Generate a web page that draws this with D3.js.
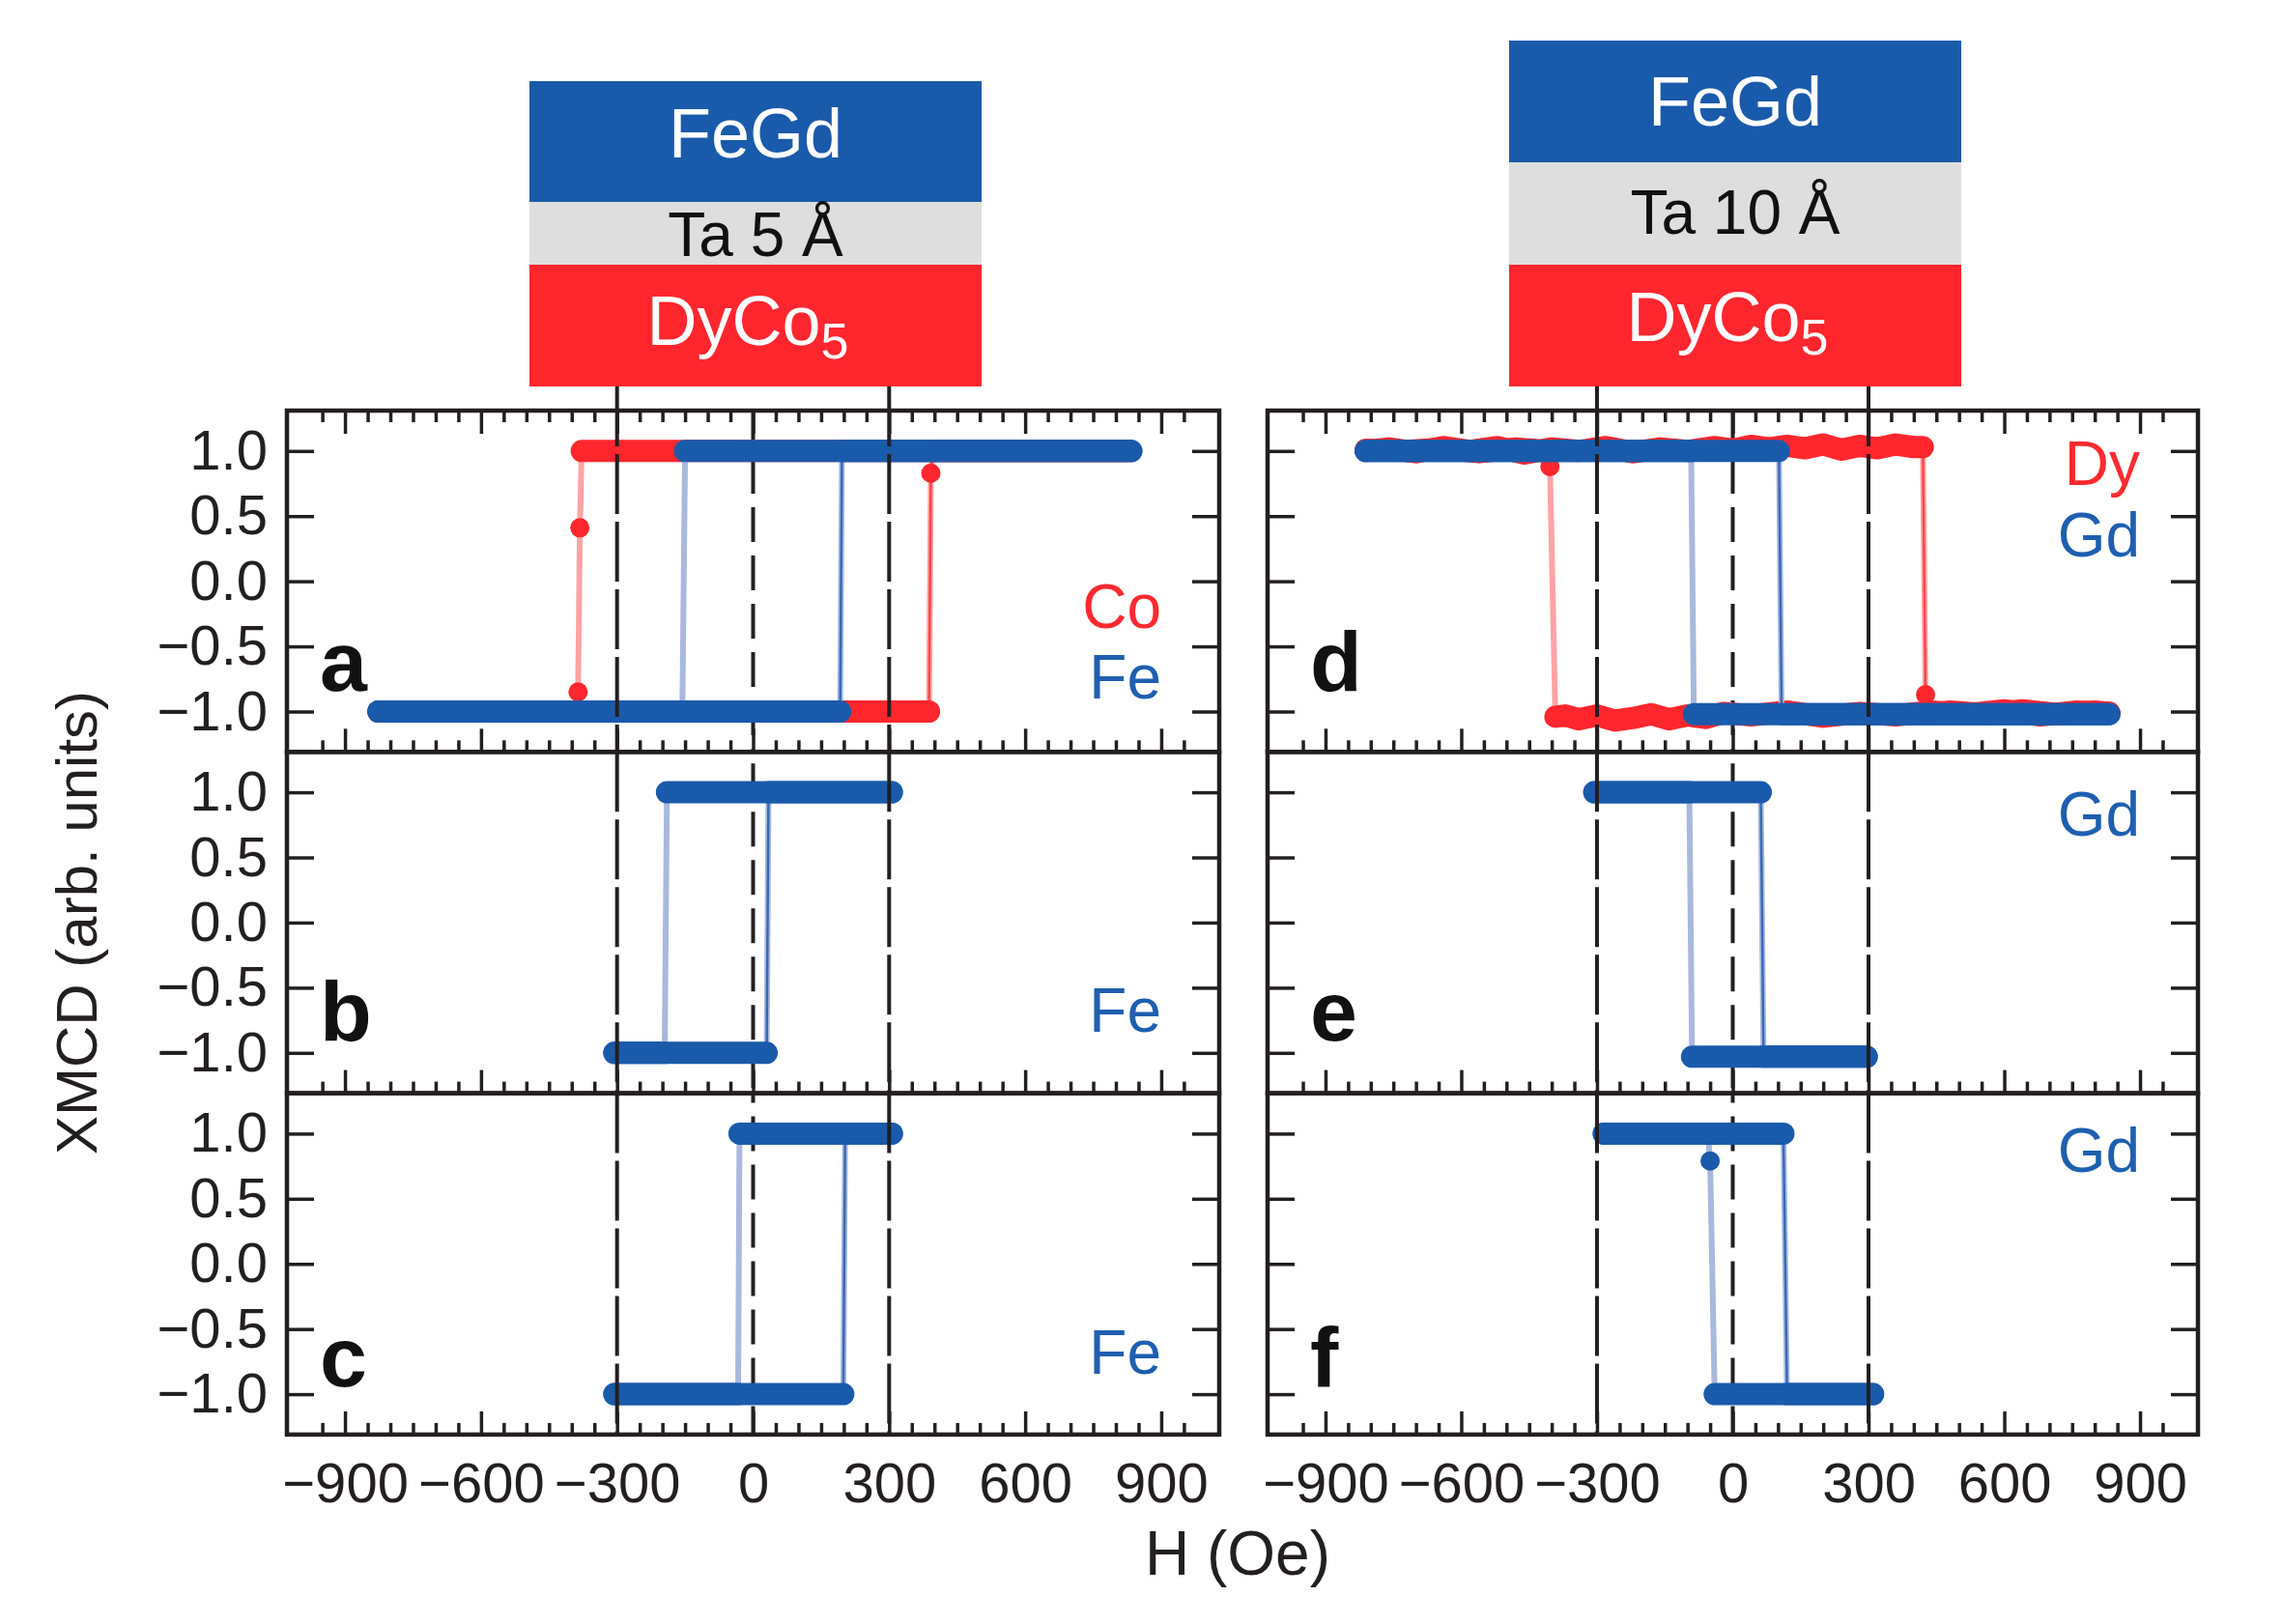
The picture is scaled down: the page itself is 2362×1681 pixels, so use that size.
<!DOCTYPE html>
<html>
<head>
<meta charset="utf-8">
<script src="https://cdn.jsdelivr.net/npm/d3@7"></script>
<style>
body{margin:0;background:#fff}
svg{display:block}
text{font-family:"Liberation Sans",Arial,Helvetica,sans-serif}
</style>
</head>
<body>
<svg id="fig" width="2362" height="1681"></svg>
<script>
// ---- data (H in Oe, XMCD normalised) ----
const hTicks = [-900, -600, -300, 0, 300, 600, 900];
const hTickLabels = ["\u2212900", "\u2212600", "\u2212300", "0", "300", "600", "900"];
const hMinor = [-950,-850,-800,-750,-700,-650,-550,-500,-450,-400,-350,-250,-200,-150,-100,-50,
                50,100,150,200,250,350,400,450,500,550,650,700,750,800,850,950];
const mTicks = [-1, -0.5, 0, 0.5, 1];
const mTickLabels = ["\u22121.0", "\u22120.5", "0.0", "0.5", "1.0"];
const guideFields = [-300, 300];

// panel a  (Ta 5 A)
const coDownA = [[830,1],[-378,1],[-382,0.41],[-386,-0.85],[-390,-1],[-826,-1]];
const coUpA   = [[-826,-1],[388,-1],[392,0.83],[396,1],[830,1]];
const feDownA = [[834,1],[-150,1],[-156,-1],[-826,-1]];
const feUpA   = [[-826,-1],[192,-1],[196,1],[834,1]];
// panel b
const feDownB = [[306,1],[-190,1],[-195,-1],[-306,-1]];
const feUpB   = [[-306,-1],[30,-1],[34,1],[306,1]];
// panel c
const feDownC = [[306,1],[-30,1],[-33,-1],[-306,-1]];
const feUpC   = [[-306,-1],[199,-1],[203,1],[306,1]];
// panel d  (Ta 10 A)
const dyDownD = [[832,-1.01],[760,-1.0],[680,-1.03],[600,-0.99],[520,-1.02],[440,-1.0],[360,-1.03],
                 [280,-1.01],[200,-1.04],[120,-1.0],[40,-1.03],[-20,-1.01],[-60,-1.05],[-100,-1.03],
                 [-140,-1.06],[-180,-1.02],[-220,-1.05],[-260,-1.07],[-300,-1.03],[-340,-1.06],
                 [-370,-1.03],[-392,-1.04],[-404,0.88],[-408,1.0],[-480,1.02],[-560,0.99],
                 [-640,1.02],[-720,1.0],[-811,1.01]];
const dyUpD   = [[-811,1.0],[-760,1.02],[-700,0.99],[-640,1.03],[-580,1.0],[-520,1.03],[-460,0.98],
                 [-400,1.02],[-340,1.0],[-280,1.03],[-220,0.99],[-160,1.02],[-100,1.0],[-40,1.03],
                 [0,1.01],[40,1.04],[80,1.02],[120,1.04],[160,1.02],[200,1.05],[240,1.01],
                 [280,1.04],[320,1.02],[360,1.05],[400,1.03],[420,1.03],[426,-0.87],[430,-1.02],
                 [480,-1.0],[560,-1.02],[640,-0.99],[720,-1.02],[800,-1.0],[832,-1.01]];
const gdDownD = [[832,-1.02],[-86,-1.02],[-92,1],[-811,1]];
const gdUpD   = [[-811,1],[102,1],[108,-1.02],[832,-1.02]];
// panel e
const gdDownE = [[296,-1.03],[-90,-1.03],[-96,1],[-306,1]];
const gdUpE   = [[-306,1],[62,1],[68,-1.03],[296,-1.03]];
// panel f
const gdDownF = [[310,-1],[-40,-1],[-50,0.79],[-55,1],[-285,1]];
const gdUpF   = [[-285,1],[112,1],[120,-1],[310,-1]];

// ---- styling / layout ----
const RED = "#ff262e", BLUE = "#1a5aab", INK = "#231f20";
const tones = {
  red:  {band: RED,  light: "#ffa3a6", dark: "#ff3a40", label: "#ff2a30"},
  blue: {band: BLUE, light: "#a9b8db", dark: "#2a62b3", label: "#1f5fb0"}
};
const cols = [{x0: 297, x1: 1262}, {x0: 1312, x1: 2275}];
const rowTop = 425, rowH = 353.3;

const panels = [
  {col:0,row:0,letter:"a",series:[["red",coDownA,coUpA],["blue",feDownA,feUpA]],
   labels:[["Co","red",225],["Fe","blue",298]]},
  {col:0,row:1,letter:"b",series:[["blue",feDownB,feUpB]],labels:[["Fe","blue",290]]},
  {col:0,row:2,letter:"c",series:[["blue",feDownC,feUpC]],labels:[["Fe","blue",290]]},
  {col:1,row:0,letter:"d",series:[["red",dyDownD,dyUpD],["blue",gdDownD,gdUpD]],
   labels:[["Dy","red",77],["Gd","blue",151]]},
  {col:1,row:1,letter:"e",series:[["blue",gdDownE,gdUpE]],labels:[["Gd","blue",87]]},
  {col:1,row:2,letter:"f",series:[["blue",gdDownF,gdUpF]],labels:[["Gd","blue",81]]}
];
const letterBase = [290, 299, 303];

const svg = d3.select("#fig");

// ---- layer stack sketches ----
const stacks = [
  {cx: 782, layers: [[84,209,BLUE],[209,274,"#dedede"],[274,400,RED]], ta: "Ta 5 \u00c5",
   base: [163, 265, 357]},
  {cx: 1796, layers: [[42,168,BLUE],[168,274,"#dedede"],[274,400,RED]], ta: "Ta 10 \u00c5",
   base: [130, 242, 353]}
];
stacks.forEach(s => {
  const g = svg.append("g");
  g.selectAll("rect").data(s.layers).enter().append("rect")
    .attr("x", s.cx - 234).attr("width", 468)
    .attr("y", d => d[0]).attr("height", d => d[1] - d[0])
    .attr("fill", d => d[2]);
  g.append("text").attr("x", s.cx).attr("y", s.base[0]).attr("text-anchor", "middle")
    .attr("font-size", 72).attr("fill", "#fff").text("FeGd");
  g.append("text").attr("x", s.cx).attr("y", s.base[1]).attr("text-anchor", "middle")
    .attr("font-size", 64).attr("fill", "#111").text(s.ta);
  const t = g.append("text").attr("x", s.cx - 8).attr("y", s.base[2]).attr("text-anchor", "middle")
    .attr("font-size", 72).attr("fill", "#fff");
  t.append("tspan").text("DyCo");
  t.append("tspan").attr("font-size", 52).attr("dy", 14).text("5");
});

// ---- panels ----
const lineGen = (x, y) => d3.line().x(d => x(d[0])).y(d => y(d[1]));

// saturated stretches of a branch: drawn as the thick band of overlapping markers
function plateauRuns(pts) {
  const runs = []; let cur = [];
  pts.forEach(p => {
    const prev = cur[cur.length - 1];
    if (Math.abs(p[1]) >= 0.95 && (!prev || Math.abs(p[1] - prev[1]) < 0.3)) { cur.push(p); return; }
    if (cur.length > 1) runs.push(cur);
    cur = Math.abs(p[1]) >= 0.95 ? [p] : [];
  });
  if (cur.length > 1) runs.push(cur);
  return runs;
}

panels.forEach(p => {
  const c = cols[p.col];
  const top = rowTop + p.row * rowH, bot = top + rowH;
  const x = d3.scaleLinear().domain([-1028, 1028]).range([c.x0, c.x1]);
  const y = d3.scaleLinear().domain([-1.31, 1.31]).range([bot, top]);
  const g = svg.append("g");
  const line = lineGen(x, y);

  // zero-field guide (under the data)
  g.append("line").attr("x1", x(0)).attr("x2", x(0)).attr("y1", top).attr("y2", bot)
    .attr("stroke", INK).attr("stroke-width", 4).attr("stroke-dasharray", "36,14")
    .attr("stroke-dashoffset", -p.row * 12);

  p.series.forEach(([tone, down, up]) => {
    const t = tones[tone];
    [down, up].forEach((br, i) => {
      g.append("path").attr("d", line(br)).attr("fill", "none")
        .attr("stroke", t.light).attr("stroke-width", 6);
      g.append("path").attr("d", line(br)).attr("fill", "none")
        .attr("stroke", i ? t.dark : t.light).attr("stroke-width", 2.5).attr("opacity", 0.9);
    });
    [down, up].forEach(br => {
      plateauRuns(br).forEach(run => {
        g.append("path").attr("d", line(run)).attr("fill", "none")
          .attr("stroke", t.band).attr("stroke-width", 23)
          .attr("stroke-linecap", "round").attr("stroke-linejoin", "round");
      });
      g.selectAll(null).data(br.filter(d => Math.abs(d[1]) < 0.95)).enter().append("circle")
        .attr("cx", d => x(d[0])).attr("cy", d => y(d[1])).attr("r", 10).attr("fill", t.band);
    });
  });

  // +/-300 Oe guides drawn over the data, reaching up to the stack sketches
  g.selectAll(null).data(guideFields).enter().append("line")
    .attr("x1", d => x(d)).attr("x2", d => x(d))
    .attr("y1", p.row === 0 ? 400 : top).attr("y2", bot)
    .attr("stroke", INK).attr("stroke-width", 4).attr("stroke-dasharray", "62,8");

  // inward ticks
  const styleAxis = a => {
    a.select(".domain").remove();
    a.selectAll(".tick line").attr("stroke", INK).attr("stroke-width", 3.5);
    a.selectAll(".tick text").attr("fill", INK).attr("font-size", 58)
      .attr("font-family", "Liberation Sans, Arial, sans-serif");
  };
  const bottomMajor = d3.axisBottom(x).tickValues(hTicks).tickSize(-24).tickPadding(29)
    .tickFormat((d, i) => p.row === 2 ? hTickLabels[i] : "");
  g.append("g").attr("transform", `translate(0,${bot})`).call(bottomMajor).call(styleAxis);
  g.append("g").attr("transform", `translate(0,${bot})`)
    .call(d3.axisBottom(x).tickValues(hMinor).tickSize(-12).tickFormat("")).call(styleAxis);
  if (p.row === 0) {
    g.append("g").attr("transform", `translate(0,${top})`)
      .call(d3.axisTop(x).tickValues(hTicks).tickSize(-24).tickFormat("")).call(styleAxis);
    g.append("g").attr("transform", `translate(0,${top})`)
      .call(d3.axisTop(x).tickValues(hMinor).tickSize(-12).tickFormat("")).call(styleAxis);
  }
  g.append("g").attr("transform", `translate(${c.x0},0)`)
    .call(d3.axisLeft(y).tickValues(mTicks).tickSize(-28).tickPadding(20)
      .tickFormat((d, i) => p.col === 0 ? mTickLabels[i] : "")).call(styleAxis);
  g.append("g").attr("transform", `translate(${c.x1},0)`)
    .call(d3.axisRight(y).tickValues(mTicks).tickSize(-28).tickFormat("")).call(styleAxis);

  // frame
  g.append("rect").attr("x", c.x0).attr("y", top).attr("width", c.x1 - c.x0).attr("height", rowH)
    .attr("fill", "none").attr("stroke", INK).attr("stroke-width", 4.5);

  // panel letter and element labels
  g.append("text").attr("x", c.x0 + (p.col ? 44 : 34)).attr("y", top + letterBase[p.row])
    .attr("font-size", 88).attr("font-weight", "bold").attr("fill", "#111").text(p.letter);
  p.labels.forEach(([txt, tone, dy]) => {
    g.append("text").attr("x", c.x1 - 60).attr("y", top + dy).attr("text-anchor", "end")
      .attr("font-size", 64).attr("fill", tones[tone].label).text(txt);
  });
});

// axis titles
svg.append("text").attr("x", (cols[0].x0 + cols[1].x1) / 2 - 5).attr("y", 1630)
  .attr("text-anchor", "middle").attr("font-size", 64).attr("fill", INK).text("H (Oe)");
svg.append("text").attr("transform", `translate(100,${rowTop + 1.5 * rowH}) rotate(-90)`)
  .attr("text-anchor", "middle").attr("font-size", 60).attr("fill", INK).text("XMCD (arb. units)");
</script>
</body>
</html>
